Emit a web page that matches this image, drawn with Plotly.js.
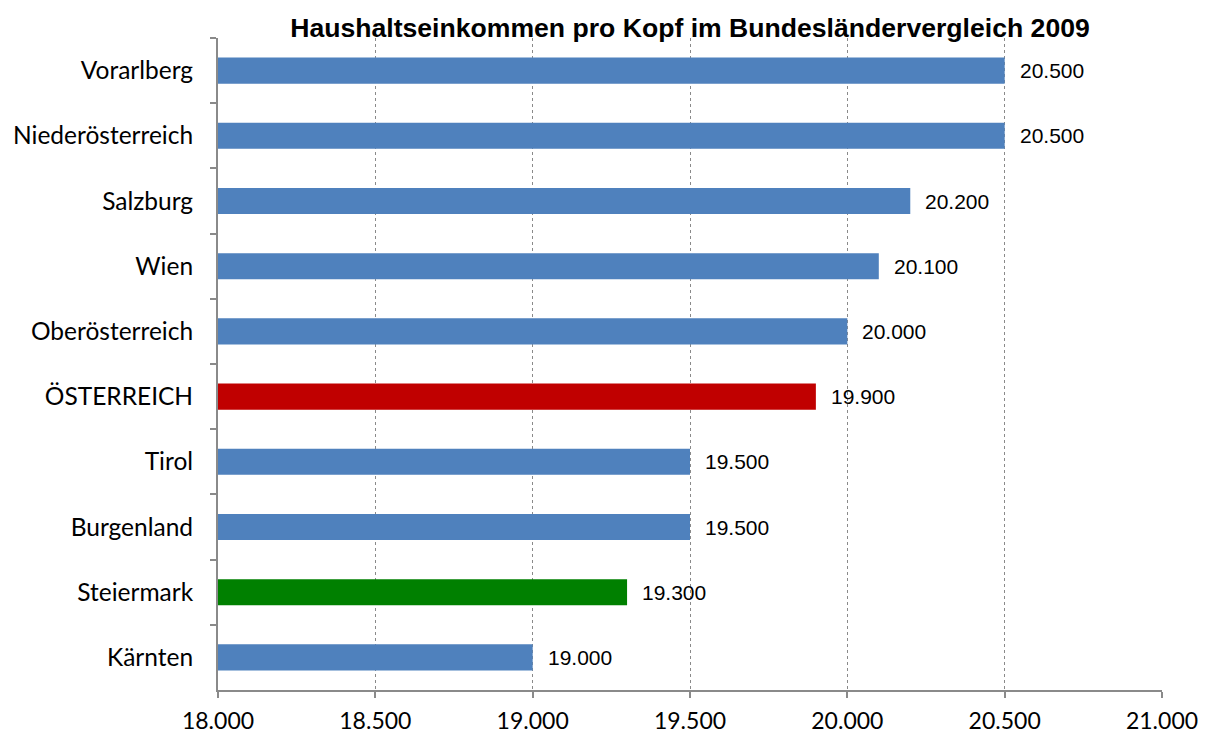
<!DOCTYPE html>
<html><head><meta charset="utf-8">
<script src="https://cdn.plot.ly/plotly-3.0.1.min.js"></script>
<style>body{margin:0;background:#fff}#c{width:1208px;height:736px}</style>
</head><body><div id="c"></div>
<script>
const categories = ["Vorarlberg","Niederösterreich","Salzburg","Wien","Oberösterreich","ÖSTERREICH","Tirol","Burgenland","Steiermark","Kärnten"];
const values = [20500,20500,20200,20100,20000,19900,19500,19500,19300,19000];
const barColors = ["#4F81BD","#4F81BD","#4F81BD","#4F81BD","#4F81BD","#C00000","#4F81BD","#4F81BD","#008000","#4F81BD"];
const xTicks = [18000,18500,19000,19500,20000,20500,21000];
const xTickLabels = ["18.000","18.500","19.000","19.500","20.000","20.500","21.000"];
const titleText = "Haushaltseinkommen pro Kopf im Bundesländervergleich 2009";

function fmt(v){ return String(v).replace(/\B(?=(\d{3})+(?!\d))/g, "."); }

const trace = {
  type: "bar", orientation: "h",
  x: values, y: categories,
  marker: {color: barColors, line: {width: 0}},
  hoverinfo: "none"
};
const annotations = values.map((v,i)=>({
  x: v, y: categories[i], xref: "x", yref: "y",
  text: fmt(v), showarrow: false, xanchor: "left", yanchor: "middle",
  xshift: 13, font: {family: "Liberation Sans, Arial", size: 21, color: "#000"}
}));
const layout = {
  width: 1208, height: 736,
  margin: {l: 218, r: 46, t: 38, b: 46},
  paper_bgcolor: "#fff", plot_bgcolor: "#fff",
  showlegend: false,
  bargap: 0.6,
  title: {text: "<b>"+titleText+"</b>", x: 0.5, xref: "paper", xanchor: "center", y: 0.962, yanchor: "middle",
          font: {family: "Liberation Sans, Arial", size: 26.6, color: "#000"}},
  xaxis: {
    range: [18000, 21000], tickvals: xTicks, ticktext: xTickLabels,
    showgrid: true, gridcolor: "#8a8a8a", griddash: "dot", gridwidth: 1,
    showline: true, linecolor: "#8a8a8a", linewidth: 2,
    ticks: "outside", ticklen: 6, tickcolor: "#8a8a8a", tickwidth: 2,
    zeroline: false, ticklabelstandoff: 3,
    tickfont: {family: "Lato", size: 23, color: "#000"}
  },
  yaxis: {
    autorange: "reversed", type: "category",
    showline: true, linecolor: "#8a8a8a", linewidth: 2,
    ticks: "outside", ticklen: 6, tickcolor: "#8a8a8a", tickwidth: 2,
    tickson: "boundaries", showgrid: false, zeroline: false,
    ticklabelstandoff: 18,
    tickfont: {family: "Lato", size: 24.5, color: "#000"}
  },
  annotations: annotations
};
Plotly.newPlot("c", [trace], layout, {displayModeBar: false, staticPlot: true});
</script></body></html>
